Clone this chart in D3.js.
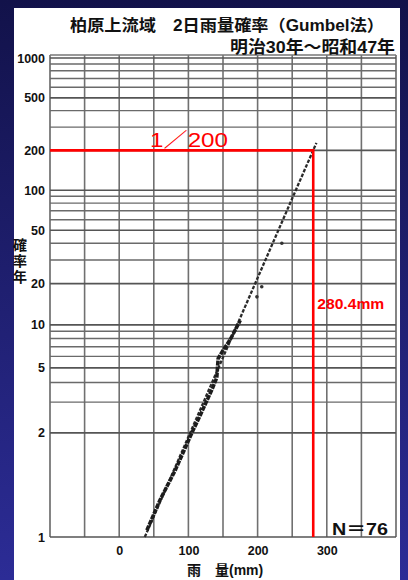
<!DOCTYPE html>
<html><head><meta charset="utf-8">
<script src="https://cdn.jsdelivr.net/npm/d3@7"></script>
<style>
html,body{margin:0;padding:0;background:#1c1c60;}
svg{display:block;}
text{font-family:"Liberation Sans","Noto Sans CJK JP",sans-serif;}
</style></head>
<body>
<svg id="chart" width="408" height="580"></svg>
<script>
// Return-period labels on the Gumbel probability axis
const yTickT = [1000, 500, 200, 100, 50, 20, 10, 5, 2, 1];
// Horizontal rulings of the probability paper (return periods, years)
const gridT = [1000, 900, 800, 700, 600, 500, 400, 300, 200,
               100, 90, 80, 70, 60, 50, 40, 30, 20,
               10, 9, 8, 7, 6, 5, 4, 3, 2, 1];
// Rainfall axis (mm)
const xTickMm = [0, 100, 200, 300];
const xGridMm = [-100, -50, 0, 50, 100, 150, 200, 250, 300, 350, 400];
// Plotted annual maximum 2-day rainfall (mm) and return period (years)
const obsRain = [40, 59, 81, 105, 117, 134, 141, 143, 150, 160, 175];
const obsT    = [1.023, 1.12, 1.36, 2.0, 2.5, 3.6, 4.3, 5.8, 6.6, 7.8, 10.8];
// Isolated large-rainfall years
const outRain = [199, 206, 235];
const outT    = [16, 19, 40];
// Fitted Gumbel line, end points
const fitRain = [37, 285];
const fitT    = [1.0143, 228];
// Design value
const designT = 200;
const designRain = 280.4;
const sampleN = 76;

const svg = d3.select("#chart");
const W = 408, H = 580;

// Background: navy frame with white sheet
const defs = svg.append("defs");
const grad = defs.append("linearGradient").attr("id", "bg")
  .attr("x1", 0).attr("y1", 0).attr("x2", 0).attr("y2", 1);
grad.append("stop").attr("offset", "0").attr("stop-color", "#12124a");
grad.append("stop").attr("offset", "1").attr("stop-color", "#2c2c96");
defs.append("filter").attr("id", "soft")
  .append("feGaussianBlur").attr("stdDeviation", 0.45);

svg.append("rect").attr("width", W).attr("height", H).attr("fill", "url(#bg)");
svg.append("rect").attr("x", 14).attr("y", 8).attr("width", 386).attr("height", H - 8)
  .attr("fill", "#ffffff");

// Gumbel reduced variate; T = 1 sits on the bottom edge of the paper
const yMin = -1.45, yMax = 6.96;
function rv(T) { return T <= 1 ? yMin : -Math.log(-Math.log(1 - 1 / T)); }

const x = d3.scaleLinear().domain([-100, 400]).range([50, 396]);
const y = d3.scaleLinear().domain([yMin, yMax]).range([537, 55]);

const grid = svg.append("g").attr("filter", "url(#soft)");

// vertical rulings
grid.selectAll("line.v").data(xGridMm).join("line")
  .attr("x1", d => x(d)).attr("x2", d => x(d))
  .attr("y1", y(yMax)).attr("y2", y(yMin))
  .attr("stroke", d => (d === -100 || d === 400) ? "#666" : "#707070")
  .attr("stroke-width", 1.6);

// horizontal rulings
const major = new Set(yTickT);
grid.selectAll("line.h").data(gridT).join("line")
  .attr("x1", x(-100)).attr("x2", x(400))
  .attr("y1", d => y(rv(d))).attr("y2", d => y(rv(d)))
  .attr("stroke", d => major.has(d) ? "#555" : "#6a6a6a")
  .attr("stroke-width", d => major.has(d) ? 1.7 : 1.4);
// top edge of the paper
grid.append("line")
  .attr("x1", x(-100)).attr("x2", x(400))
  .attr("y1", y(yMax)).attr("y2", y(yMax))
  .attr("stroke", "#777").attr("stroke-width", 1.4);

// y axis labels
const yAxis = d3.axisLeft(y).tickValues(yTickT.map(rv))
  .tickFormat((d, i) => String(yTickT[i])).tickSize(0).tickPadding(4);
const gy = svg.append("g").attr("transform", `translate(${x(-100) - 1},0)`).call(yAxis);
gy.select(".domain").remove();
gy.selectAll("text").attr("font-size", 12.5).attr("font-weight", "bold").attr("fill", "#111");

// x axis labels
const xAxis = d3.axisBottom(x).tickValues(xTickMm).tickSize(0).tickPadding(9);
const gx = svg.append("g").attr("transform", `translate(0,${y(yMin)})`).call(xAxis);
gx.select(".domain").remove();
gx.selectAll("text").attr("font-size", 12.5).attr("font-weight", "bold").attr("fill", "#111");

// Fitted Gumbel line (dashed)
const marks = svg.append("g").attr("filter", "url(#soft)");
marks.append("line")
  .attr("x1", x(fitRain[0])).attr("y1", y(rv(fitT[0])))
  .attr("x2", x(fitRain[1])).attr("y2", y(rv(fitT[1])))
  .attr("stroke", "#2a2a2a").attr("stroke-width", 2.3)
  .attr("stroke-dasharray", "3.5,1.6");

// Plotted observations, densely packed
const obs = obsRain.map((r, i) => [r, obsT[i]]);
marks.append("path")
  .datum(obs)
  .attr("d", d3.line().x(d => x(d[0])).y(d => y(rv(d[1]))))
  .attr("fill", "none").attr("stroke", "#1e1e1e")
  .attr("stroke-width", 3.6).attr("stroke-linejoin", "round")
  .attr("stroke-dasharray", "5,1");
marks.selectAll("circle.o").data(outRain).join("circle")
  .attr("cx", d => x(d)).attr("cy", (d, i) => y(rv(outT[i])))
  .attr("r", 1.8).attr("fill", "#333");

// Design value: 1/200 at 280.4 mm
const red = "#ff0000";
svg.append("line")
  .attr("x1", x(-100)).attr("x2", x(designRain))
  .attr("y1", y(rv(designT))).attr("y2", y(rv(designT)))
  .attr("stroke", red).attr("stroke-width", 2.6);
svg.append("line")
  .attr("x1", x(designRain)).attr("x2", x(designRain))
  .attr("y1", y(rv(designT)) - 1.3).attr("y2", y(yMin))
  .attr("stroke", red).attr("stroke-width", 2.6);
svg.append("text").attr("x", 150).attr("y", 147)
  .attr("font-size", 20).attr("fill", red)
  .attr("textLength", 78).attr("lengthAdjust", "spacingAndGlyphs")
  .text(`1／${designT}`);
svg.append("text").attr("x", x(designRain) + 4).attr("y", 309)
  .attr("font-size", 14.5).attr("font-weight", "bold").attr("fill", red)
  .attr("textLength", 67).attr("lengthAdjust", "spacingAndGlyphs")
  .text(`${designRain}mm`);

// Sample size
svg.append("text").attr("x", 332).attr("y", 535)
  .attr("font-size", 17).attr("font-weight", "bold").attr("fill", "#111")
  .attr("textLength", 56).attr("lengthAdjust", "spacingAndGlyphs")
  .text(`N＝${sampleN}`);

// Titles
svg.append("text").attr("x", 70).attr("y", 31)
  .attr("font-size", 16).attr("font-weight", "bold").attr("fill", "#111")
  .attr("textLength", 314).attr("lengthAdjust", "spacingAndGlyphs")
  .text("柏原上流域　2日雨量確率（Gumbel法）");
svg.append("text").attr("x", 230).attr("y", 53)
  .attr("font-size", 17).attr("font-weight", "bold").attr("fill", "#111")
  .attr("textLength", 165).attr("lengthAdjust", "spacingAndGlyphs")
  .text("明治30年～昭和47年");

// Axis titles
const yTitle = svg.append("text").attr("font-size", 14).attr("font-weight", "bold")
  .attr("fill", "#111").attr("text-anchor", "middle");
["確", "率", "年"].forEach((c, i) => {
  yTitle.append("tspan").attr("x", 20).attr("y", 250 + i * 16).text(c);
});
svg.append("text").attr("x", 187).attr("y", 575)
  .attr("font-size", 14).attr("font-weight", "bold").attr("fill", "#111")
  .text("雨　量(mm)");
</script>
</body></html>
